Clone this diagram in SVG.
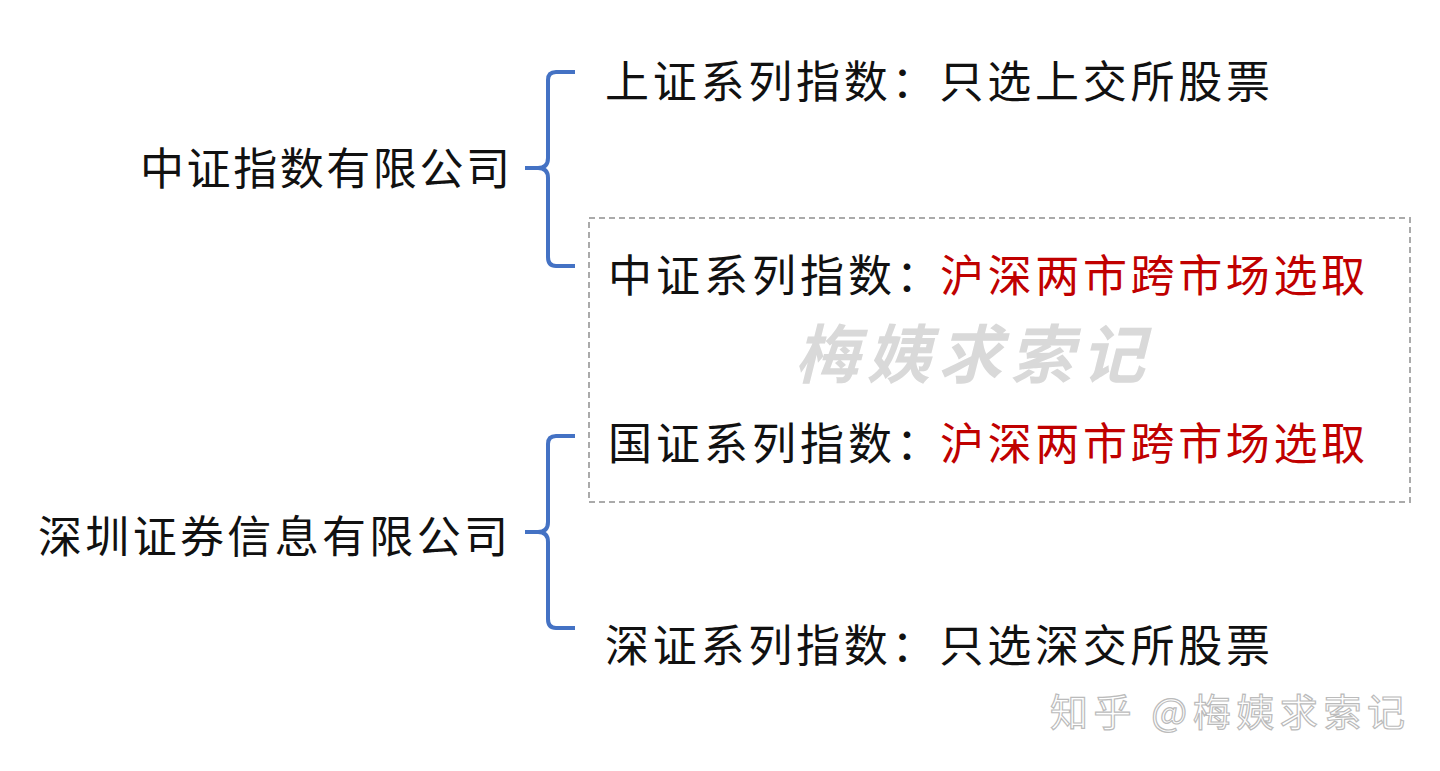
<svg xmlns="http://www.w3.org/2000/svg" width="1440" height="771" viewBox="0 0 1440 771">
<style>
.t{font-family:"Noto Sans CJK SC","Noto Serif CJK SC",sans-serif;font-size:44px;fill:#111}
.r{fill:#c00000}
.b{fill:none;stroke:#4472c4;stroke-width:4}
</style>
<rect width="1440" height="771" fill="#fff"/>
<g id="connectors">
<path class="b" d="M575,72 H556 Q548,72 548,80 V158 Q548,168 538,168 H525 H538 Q548,168 548,178 V257 Q548,266 556,266 H575"/>
<path class="b" d="M575,436 H556 Q548,436 548,444 V522 Q548,532 538,532 H525 H538 Q548,532 548,542 V619 Q548,628 556,628 H575"/>
</g>
<g id="box"><rect x="589" y="218" width="821" height="284" fill="none" stroke="#aaa" stroke-width="2" stroke-dasharray="6,4"/></g>
<g id="watermark"><text x="795" y="378" textLength="350" font-family="Noto Sans CJK SC,sans-serif" font-size="64" font-style="italic" font-weight="bold" fill="#d9d9d9">梅姨求索记</text></g>
<g id="n1"><text class="t" x="140" y="185" textLength="370">中证指数有限公司</text></g>
<g id="n2"><text class="t" x="38" y="553" textLength="470">深圳证券信息有限公司</text></g>
<g id="n3"><text class="t" x="605" y="98" textLength="665">上证系列指数：只选上交所股票</text></g>
<g id="n4"><text class="t" x="608" y="292" textLength="332">中证系列指数：</text><text class="t r" x="940" y="292" textLength="425">沪深两市跨市场选取</text></g>
<g id="n5"><text class="t" x="608" y="460" textLength="332">国证系列指数：</text><text class="t r" x="940" y="460" textLength="425">沪深两市跨市场选取</text></g>
<g id="n6"><text class="t" x="605" y="662" textLength="665">深证系列指数：只选深交所股票</text></g>
<g id="credit"><text x="1050" y="726" textLength="355" font-family="Noto Sans CJK SC,sans-serif" font-size="38" fill="#fff" stroke="#bbb" stroke-width="1.2">知乎 @梅姨求索记</text></g>
</svg>
